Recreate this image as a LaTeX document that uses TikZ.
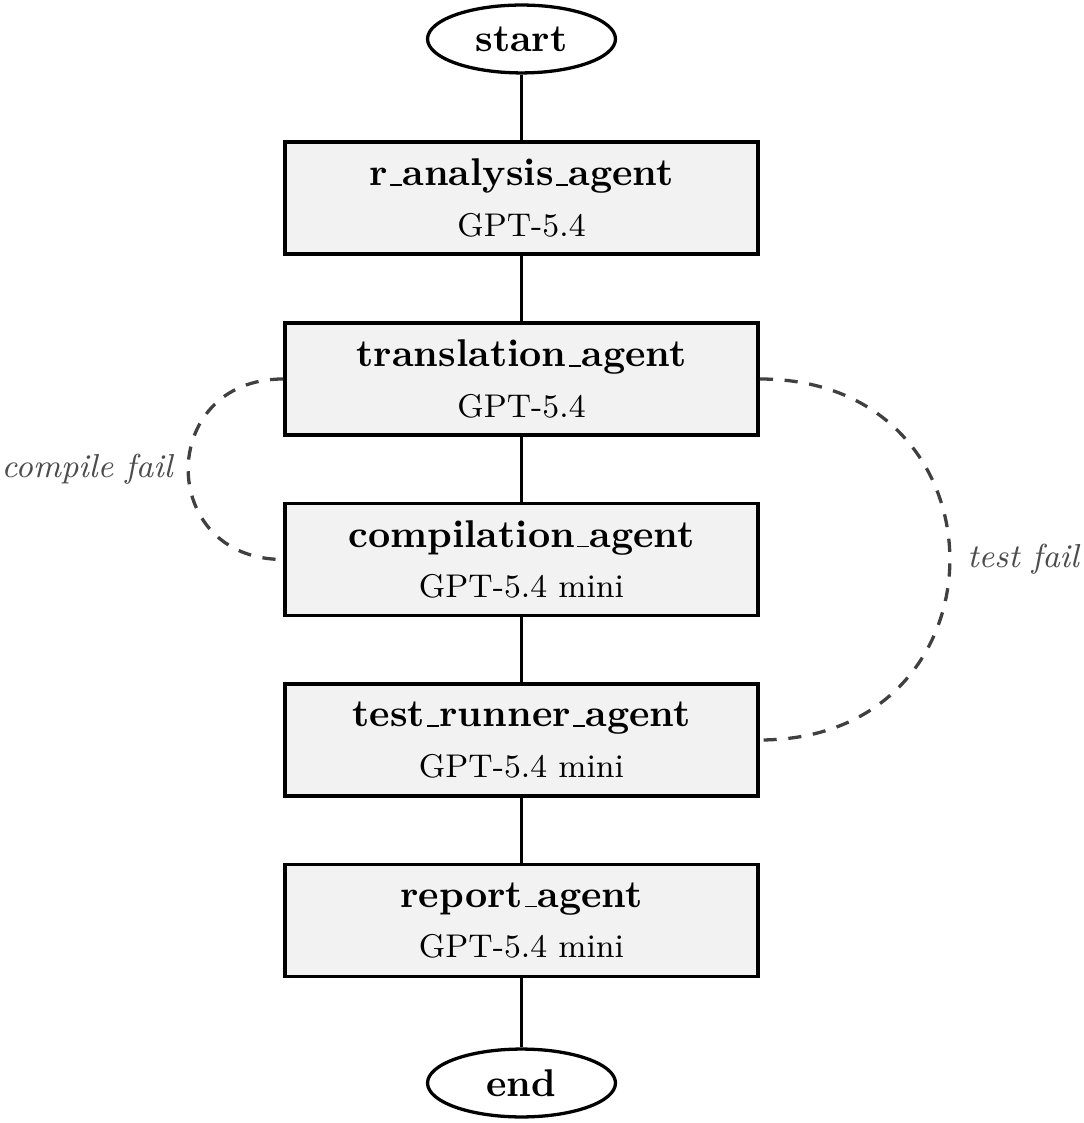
\documentclass[tikz,border=0pt]{standalone}
\usetikzlibrary{shapes.geometric}
\newcommand\usc{\leavevmode\kern.06em\vbox{\hrule width.3em height .45pt}\kern.02em}
\newcommand\titlefont{\fontsize{10.6}{12.7}\selectfont\bfseries}
\begin{document}
\begin{tikzpicture}[x=0.274pt,y=-0.274pt,
  agentbox/.style={draw=black, line width=1pt, fill=gray!10, rectangle, minimum width=129.6pt, minimum height=30.7pt, align=center, inner sep=0pt},
  termnode/.style={draw=black, line width=0.9pt, ellipse, minimum width=51.5pt, minimum height=18.6pt, inner sep=0pt, font=\titlefont},
  flow/.style={line width=0.9pt},
  loopback/.style={line width=0.9pt, dash pattern=on 3.6pt off 3.2pt, black!75},
  looplabel/.style={font=\fontsize{9.1}{11}\selectfont\itshape, text=black!70}]
\useasboundingbox (0,0) rectangle (1083,1123);
\node[termnode] (start) at (521.5,39) {start};
\node[agentbox] (a1) at (521.5,198) {{\titlefont r\usc analysis\usc agent}\\[1.8pt]{\small GPT-5.4}};
\node[agentbox] (a2) at (521.5,379) {{\titlefont translation\usc agent}\\[1.8pt]{\small GPT-5.4}};
\node[agentbox] (a3) at (521.5,559.5) {{\titlefont compilation\usc agent}\\[1.8pt]{\small GPT-5.4 mini}};
\node[agentbox] (a4) at (521.5,740) {{\titlefont test\usc runner\usc agent}\\[1.8pt]{\small GPT-5.4 mini}};
\node[agentbox] (a5) at (521.5,920.5) {{\titlefont report\usc agent}\\[1.8pt]{\small GPT-5.4 mini}};
\node[termnode] (end) at (521.5,1083) {end};
\draw[flow] (start) -- (a1);
\draw[flow] (a1) -- (a2);
\draw[flow] (a2) -- (a3);
\draw[flow] (a3) -- (a4);
\draw[flow] (a4) -- (a5);
\draw[flow] (a5) -- (end);
\draw[loopback] (a2.west) to[out=180,in=180,looseness=1.8] node[looplabel, left, xshift=-0.5pt] {compile fail} (a3.west);
\draw[loopback] (a2.east) to[out=0,in=0,looseness=1.8] node[looplabel, right, xshift=1pt] {test fail} (a4.east);
\end{tikzpicture}
\end{document}
